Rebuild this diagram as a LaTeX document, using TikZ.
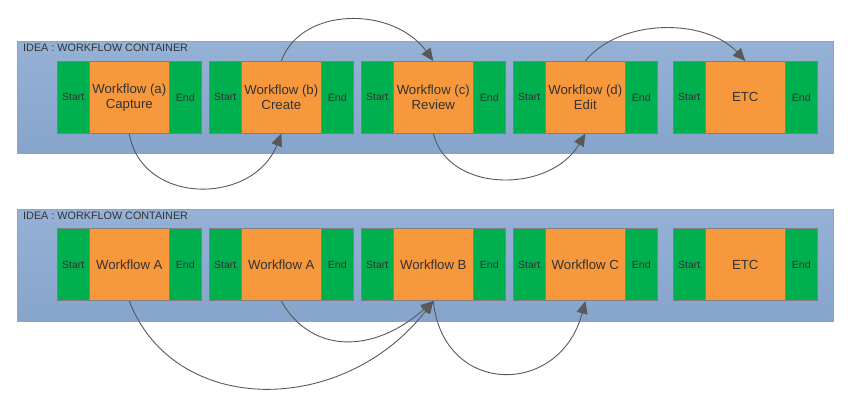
\documentclass[tikz,border=0pt]{standalone}
\usepackage{fontspec}
\setmainfont{Liberation Sans}
\usetikzlibrary{arrows.meta}
\definecolor{contA}{HTML}{95B1D5}
\definecolor{contB}{HTML}{87A4CC}
\definecolor{contborder}{HTML}{A0A0A0}
\definecolor{wfgreen}{HTML}{00B04F}
\definecolor{wforange}{HTML}{F7983D}
\definecolor{boxborder}{HTML}{808080}
\definecolor{txt}{HTML}{333333}
\definecolor{arrowgray}{HTML}{595959}
\tikzset{
  container/.style={draw=contborder, line width=0.8pt, top color=contA, bottom color=contB, inner sep=0pt, anchor=north west},
  title/.style={anchor=west, inner sep=0pt, text=txt, font=\fontsize{10.8}{12}\selectfont},
  greenbox/.style={draw=boxborder, line width=0.6pt, fill=wfgreen, inner sep=0pt, minimum width=32pt, minimum height=72pt, anchor=north west, text=txt, font=\fontsize{10.5}{12}\selectfont},
  orangebox/.style={draw=boxborder, line width=0.6pt, fill=wforange, inner sep=0pt, minimum width=80pt, minimum height=72pt, anchor=north west, text=txt, align=center, font=\fontsize{13.2}{15}\selectfont},
  conn/.style={draw=arrowgray, line width=0.9pt, -{Triangle[length=12.5pt,width=11pt]}}
}
\newcommand\wfunit[4]{%
  \node[greenbox] (#1s) at (#2,#3) {Start};
  \node[orangebox] (#1) at ({#2+32},#3) {#4};
  \node[greenbox] (#1e) at ({#2+112},#3) {End};
}
\begin{document}
\begin{tikzpicture}[x=1pt,y=-1pt]
\useasboundingbox (0,0) rectangle (865,403);
% top container
\node[container, minimum width=816pt, minimum height=112pt] (ctop) at (17,41) {};
\node[title] (ttop) at (23,48) {IDEA : WORKFLOW CONTAINER};
\wfunit{wa}{57}{61}{Workflow (a)\\Capture}
\wfunit{wb}{209}{61}{Workflow (b)\\Create}
\wfunit{wc}{361}{61}{Workflow (c)\\Review}
\wfunit{wd}{513}{61}{Workflow (d)\\Edit}
\wfunit{we}{673}{61}{ETC}
% bottom container
\node[container, minimum width=816pt, minimum height=112pt] (cbot) at (17,209) {};
\node[title] (tbot) at (23,216) {IDEA : WORKFLOW CONTAINER};
\wfunit{va}{57}{228.5}{Workflow A}
\wfunit{vb}{209}{228.5}{Workflow A}
\wfunit{vc}{361}{228.5}{Workflow B}
\wfunit{vd}{513}{228.5}{Workflow C}
\wfunit{ve}{673}{228.5}{ETC}
% top arrows
\draw[conn] (wa.south) .. controls +(12,72) and +(-28,72) .. (wb.south);
\draw[conn] (wb.north) .. controls +(20,-55) and +(-40,-55) .. (wc.north);
\draw[conn] (wc.south) .. controls +(15,60) and +(-35,60) .. (wd.south);
\draw[conn] (wd.north) .. controls +(35,-43) and +(-40,-43) .. (we.north);
% bottom arrows
\draw[conn] (va.south) .. controls +(45,116) and +(-90,116) .. (vc.south);
\draw[conn] (vb.south) .. controls +(30,53) and +(-60,53) .. (vc.south);
\draw[conn] (vc.south) .. controls +(10,96) and +(-25,96) .. (vd.south);
\end{tikzpicture}
\end{document}
